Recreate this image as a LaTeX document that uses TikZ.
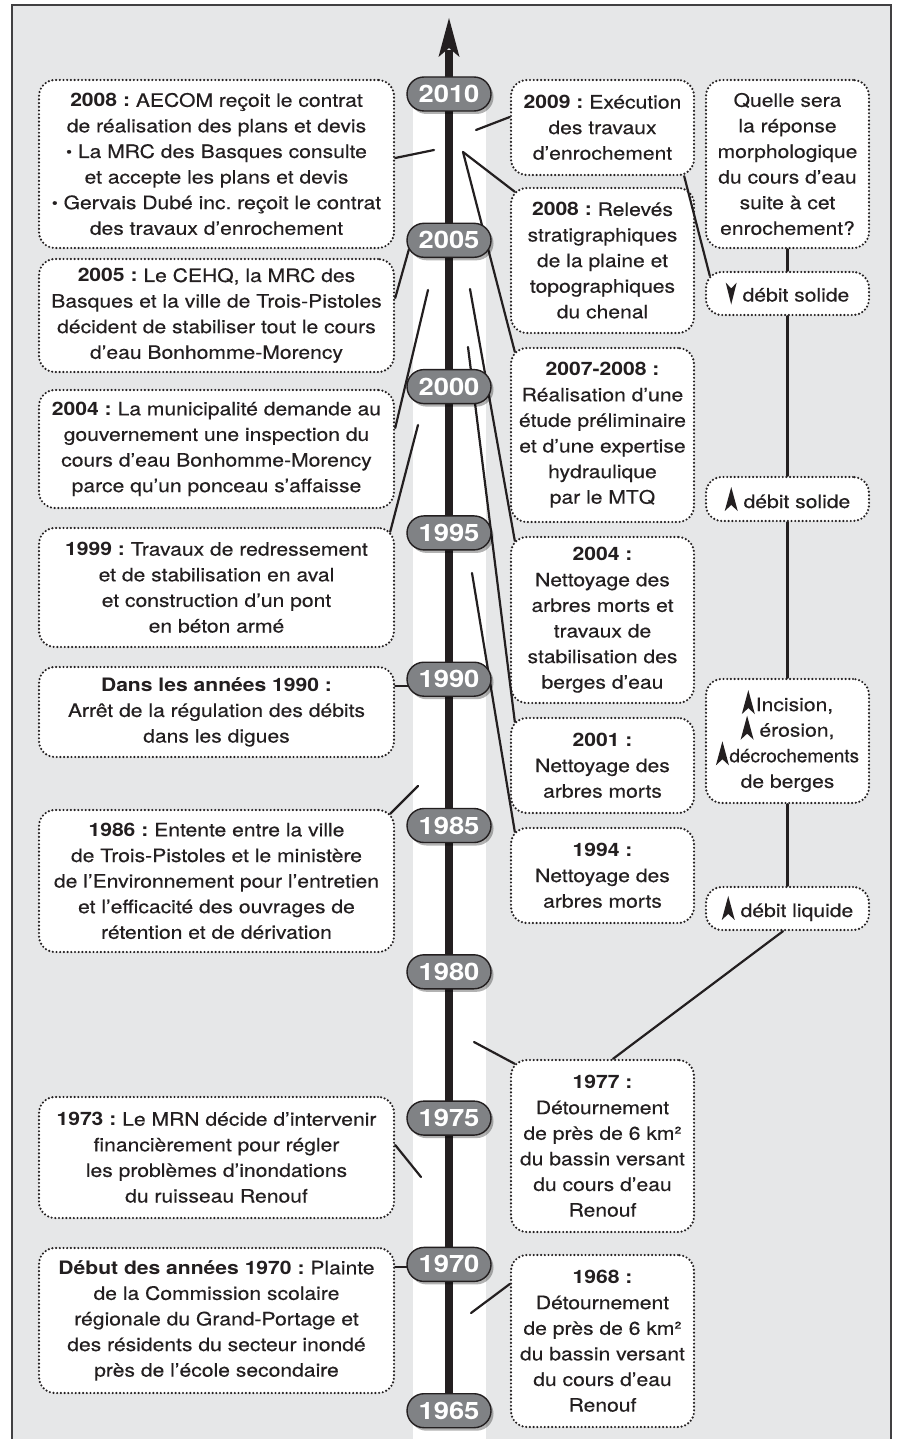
\documentclass[tikz,border=0pt]{standalone}
\usepackage{fontspec}
\setmainfont{TeX Gyre Heros}[FakeStretch=1.14, UprightFeatures={FakeBold=0.35}]
\usetikzlibrary{shadows}
\definecolor{ink}{HTML}{231F20}
\definecolor{bg}{HTML}{E6E7E8}
\definecolor{pillgray}{HTML}{808285}
\definecolor{framec}{HTML}{414042}
\newcommand\uparr{\tikz[x=1pt,y=1pt,baseline=3pt,sharp corners,solid]\fill[fill=ink,draw=none] (0,0) -- (6.5,24) -- (13,0) -- (6.5,6) -- cycle;}
\newcommand\dnarr{\tikz[x=1pt,y=1pt,baseline=3pt,sharp corners,solid]\fill[fill=ink,draw=none] (0,22) -- (5.5,0) -- (11,22) -- (5.5,16) -- cycle;}
\newcommand\bul{\raisebox{1pt}{\scalebox{0.8}{\textbullet}}}
\frenchspacing
\begin{document}
\frenchspacing
\begin{tikzpicture}[x=1pt,y=-1pt,
  box/.style={draw=ink, fill=white, line width=2.4pt, dash pattern=on 0pt off 3.7pt, line cap=round,
    rounded corners=16pt, align=center, inner sep=0pt, text=ink, font=\fontsize{18.5}{25.6}\selectfont\frenchspacing},
  lbox/.style={box, minimum width=355pt},
  rbox/.style={box, minimum width=183pt},
  farbox/.style={box, minimum width=163pt},
  pill/.style={draw=ink, line width=1.4pt, fill=pillgray, rounded corners=17pt, minimum width=84pt,
    minimum height=34pt, inner sep=0pt, text=white, font=\fontsize{24}{24}\selectfont\bfseries,
    drop shadow={shadow xshift=2.5pt, shadow yshift=-3pt, fill=black, opacity=0.3}},
  conn/.style={draw=ink, line width=2.2pt, line cap=round}]
\useasboundingbox (0,0) rectangle (898,1439);
% frame and band
\draw[framec, line width=1.6pt, fill=bg] (12,5) rectangle (891,1470);
\fill[white] (413,94) rectangle (486,1445);
% axis
\coordinate (axbot) at (449,1425);
\coordinate (axneck) at (449,50);
\coordinate (axtip) at (449,18);
\draw[ink, line width=7.5pt] (axbot) -- (axneck);
\fill[ink] (axtip) -- (459.5,57) -- (449,48) -- (438.5,57) -- cycle;
% left boxes
\node[lbox, minimum height=168pt] (l1) at (216.5,164) {\textbf{2008 :} AECOM reçoit le contrat\\ de réalisation des plans et devis\\ \bul\ La MRC des Basques consulte\\ et accepte les plans et devis\\ \bul\ Gervais Dubé inc. reçoit le contrat\\ des travaux d’enrochement};
\node[lbox, minimum height=113pt] (l2) at (216.5,315.5) {\textbf{2005 :} Le CEHQ, la MRC des\\ Basques et la ville de Trois-Pistoles\\ décident de stabiliser tout le cours\\ d’eau Bonhomme-Morency};
\node[lbox, minimum height=118pt] (l3) at (216.5,449) {\textbf{2004 :} La municipalité demande au\\ gouvernement une inspection du\\ cours d’eau Bonhomme-Morency\\ parce qu’un ponceau s’affaisse};
\node[lbox, minimum height=119pt] (l4) at (216.5,587.5) {\textbf{1999 :} Travaux de redressement\\ et de stabilisation en aval\\ et construction d’un pont\\ en béton armé};
\node[lbox, minimum height=90pt] (l5) at (216.5,712) {\textbf{Dans les années 1990 :}\\ Arrêt de la régulation des débits\\ dans les digues};
\node[lbox, minimum height=142pt] (l6) at (216.5,881) {\textbf{1986 :} Entente entre la ville\\ de Trois-Pistoles et le ministère\\ de l’Environnement pour l’entretien\\ et l’efficacité des ouvrages de\\ rétention et de dérivation};
\node[lbox, minimum height=121pt] (l7) at (216.5,1157.5) {\textbf{1973 :} Le MRN décide d’intervenir\\ financièrement pour régler\\ les problèmes d’inondations\\ du ruisseau Renouf};
\node[lbox, minimum height=145pt] (l8) at (216.5,1320.5) {\textbf{Début des années 1970 :} Plainte\\ de la Commission scolaire\\ régionale du Grand-Portage et\\ des résidents du secteur inondé\\ près de l’école secondaire};
% right boxes
\node[rbox, minimum height=95pt] (r1) at (602.5,127.5) {\textbf{2009 :} Exécution\\ des travaux\\ d’enrochement};
\node[rbox, minimum height=145pt] (r2) at (602.5,260.5) {\textbf{2008 :} Relevés\\ stratigraphiques\\ de la plaine et\\ topographiques\\ du chenal};
\node[rbox, minimum height=174pt] (r3) at (602.5,435) {\textbf{2007-2008 :}\\ Réalisation d’une\\ étude préliminaire\\ et d’une expertise\\ hydraulique\\ par le MTQ};
\node[rbox, minimum height=166pt] (r4) at (602.5,620) {\textbf{2004 :}\\ Nettoyage des\\ arbres morts et\\ travaux de\\ stabilisation des\\ berges d’eau};
\node[rbox, minimum height=95pt] (r5) at (602.5,765.5) {\textbf{2001 :}\\ Nettoyage des\\ arbres morts};
\node[rbox, minimum height=95pt] (r6) at (602.5,875.5) {\textbf{1994 :}\\ Nettoyage des\\ arbres morts};
\node[rbox, minimum height=172pt] (r7) at (602.5,1146) {\textbf{1977 :}\\ Détournement\\ de près de 6 km²\\ du bassin versant\\ du cours d’eau\\ Renouf};
\node[rbox, minimum height=172pt] (r8) at (602.5,1341) {\textbf{1968 :}\\ Détournement\\ de près de 6 km²\\ du bassin versant\\ du cours d’eau\\ Renouf};
% far right column
\node[farbox, minimum height=168pt] (q) at (787.5,164) {Quelle sera\\ la réponse\\ morphologique\\ du cours d’eau\\ suite à cet\\ enrochement?};
\node[farbox, minimum height=43pt] (s1) at (787.5,293.5) {\dnarr\ débit solide};
\node[farbox, minimum height=44pt] (s2) at (787.5,499) {\uparr\ débit solide};
\node[farbox, minimum height=124pt] (inc) at (787.5,741) {\uparr\hspace{1pt}Incision,\\ \uparr\ érosion,\\ \uparr\hspace{0.5pt}\scalebox{0.9}[1]{décrochements}\\ de berges};
\node[farbox, minimum height=43pt] (liq) at (787.5,908.5) {\uparr\ débit liquide};
% free ends near the axis
\coordinate (a1) at (434,150);
\coordinate (a2) at (409,249);
\coordinate (a3) at (428,290);
\coordinate (a4) at (418,425);
\coordinate (a5) at (409,686);
\coordinate (a6) at (418,786);
\coordinate (a7) at (421,1177);
\coordinate (a8) at (409,1267);
\coordinate (b1) at (476,130);
\coordinate (b2) at (463,152);
\coordinate (b3) at (470,289);
\coordinate (b4) at (468,347);
\coordinate (b5) at (472,573);
\coordinate (b6) at (474,1042);
\coordinate (b7) at (471,1313);
% left connectors
\draw[conn] (a1) -- ([yshift=6pt]l1.east);
\draw[conn] (a2) -- ([yshift=17.5pt]l2.east);
\draw[conn] (a3) -- ([yshift=21pt]l3.east);
\draw[conn] (a4) -- ([xshift=-5pt,yshift=-5pt]l4.north east);
\draw[conn] (a5) -- ([yshift=26pt]l5.east);
\draw[conn] (a6) -- ([xshift=-5pt,yshift=-5pt]l6.north east);
\draw[conn] (a7) -- ([yshift=12.5pt]l7.east);
\draw[conn] (a8) -- ([yshift=53.5pt]l8.east);
% right connectors
\draw[conn] (b1) -- ([yshift=10.5pt]r1.west);
\draw[conn] (b2) -- ([xshift=5pt,yshift=-5pt]r2.north west);
\draw[conn] (b2) -- ([xshift=5pt,yshift=-5pt]r3.north west);
\draw[conn] (b3) -- ([xshift=5pt,yshift=-5pt]r4.north west);
\draw[conn] (b4) -- ([xshift=5pt,yshift=-5pt]r5.north west);
\draw[conn] (b5) -- ([xshift=5pt,yshift=-5pt]r6.north west);
\draw[conn] (b6) -- ([xshift=5pt,yshift=-5pt]r7.north west);
\draw[conn] (b7) -- ([yshift=57pt]r8.west);
% far-right links
\draw[conn] ([xshift=-11pt]r1.south east) -- ([xshift=5pt,yshift=-5pt]s1.north west);
\draw[conn] (q.south) -- (s1.north);
\draw[conn] (s1.south) -- (s2.north);
\draw[conn] (s2.south) -- (inc.north);
\draw[conn] (inc.south) -- (liq.north);
\draw[conn] ([xshift=-4.5pt]liq.south) -- ([xshift=10.5pt]r7.north);
% year pills (on top of the connectors)
\foreach \yr [count=\i from 0] in {2010,2005,...,1965}
  \node[pill] (p\yr) at (449,{94+146.3*\i}) {\yr};
\end{tikzpicture}
\end{document}
